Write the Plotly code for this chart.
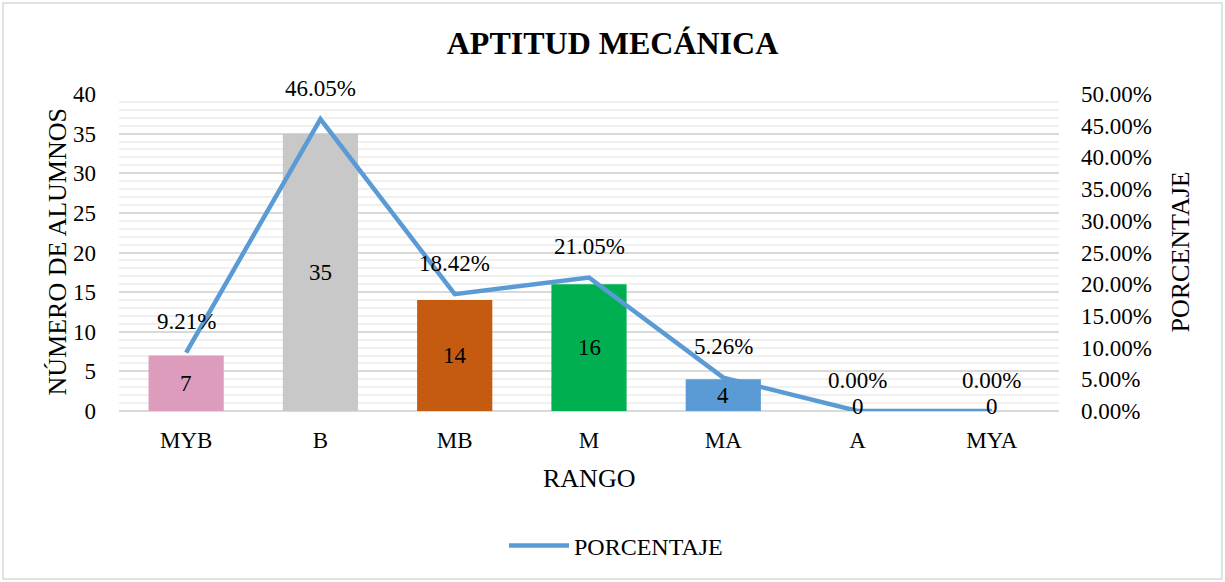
import plotly.graph_objects as go

# data
rangos = ["MYB", "B", "MB", "M", "MA", "A", "MYA"]
alumnos = [7, 35, 14, 16, 4, 0, 0]
porcentaje = [9.21, 46.05, 18.42, 21.05, 5.26, 0.00, 0.00]
bar_colors = ["#de9cbc", "#c8c8c8", "#c55a11", "#00b050", "#5b9bd5", "#5b9bd5", "#5b9bd5"]

FONT = "Liberation Serif"
LINE_COLOR = "#5b9bd5"
TXT = 23      # tick and data labels
AX_TITLE = 26

fig = go.Figure()

fig.add_trace(go.Bar(
    x=rangos, y=alumnos, marker=dict(color=bar_colors, line_width=0),
    width=0.56, showlegend=False, hoverinfo="x+y",
))

fig.add_trace(go.Scatter(
    x=rangos, y=porcentaje, yaxis="y2", mode="lines", name="PORCENTAJE",
    line=dict(color=LINE_COLOR, width=4.5), showlegend=True,
))

annotations = []
# bar value labels, centered in the bar
for cat, val in zip(rangos, alumnos):
    annotations.append(dict(
        x=cat, y=val / 2, xref="x", yref="y", text=str(val), showarrow=False,
        xanchor="center", yanchor="middle",
        font=dict(family=FONT, size=TXT, color="#000000"),
        yshift=5 if val == 0 else 0,
    ))
# percentage labels above the line points
for cat, val in zip(rangos, porcentaje):
    annotations.append(dict(
        x=cat, y=val, xref="x", yref="y2", text=f"{val:.2f}%", showarrow=False,
        xanchor="center", yanchor="middle",
        font=dict(family=FONT, size=TXT, color="#000000"), yshift=31,
    ))

# axis titles
annotations += [
    dict(text="NÚMERO DE ALUMNOS", x=0, y=0.5, xref="paper", yref="paper",
         xanchor="center", yanchor="middle",
         xshift=-62, textangle=-90, showarrow=False,
         font=dict(family=FONT, size=AX_TITLE, color="#000000")),
    dict(text="PORCENTAJE", x=1, y=0.5, xref="paper", yref="paper",
         xanchor="center", yanchor="middle",
         xshift=121, textangle=-90, showarrow=False,
         font=dict(family=FONT, size=AX_TITLE, color="#000000")),
    dict(text="RANGO", x=0.5, y=0, xref="paper", yref="paper",
         xanchor="center", yanchor="middle",
         yshift=-67, showarrow=False,
         font=dict(family=FONT, size=AX_TITLE, color="#000000")),
]

fig.update_layout(
    width=1225, height=582,
    margin=dict(l=119, r=166, t=94, b=171, autoexpand=False),
    paper_bgcolor="white", plot_bgcolor="white",
    font=dict(family=FONT, size=TXT, color="#000000"),
    title=dict(text="<b>APTITUD MECÁNICA</b>", x=0.5, xanchor="center",
               y=1 - 43 / 582, yanchor="middle",
               font=dict(family=FONT, size=32, color="#000000")),
    xaxis=dict(showgrid=False, showline=False, ticks="", zeroline=False, automargin=False,
               tickfont=dict(family=FONT, size=TXT), ticklabelstandoff=13),
    yaxis=dict(range=[0, 40], dtick=5, showgrid=True, gridcolor="#d9d9d9", gridwidth=1.5,
               minor=dict(dtick=1, showgrid=True, gridcolor="#f0f0f0", gridwidth=1.5),
               zeroline=True, zerolinecolor="#d9d9d9", zerolinewidth=2, automargin=False,
               showline=False, ticks="", tickfont=dict(family=FONT, size=TXT),
               ticklabelstandoff=22),
    yaxis2=dict(range=[0, 50], dtick=5, overlaying="y", side="right", automargin=False,
                showgrid=False, zeroline=False, showline=False, ticks="",
                tickformat=".2f", ticksuffix="%", tickfont=dict(family=FONT, size=TXT),
                ticklabelstandoff=21),
    legend=dict(orientation="h", x=(504 - 119) / 940, xanchor="left",
                y=-135 / 317, yanchor="middle",
                font=dict(family=FONT, size=24), itemwidth=60, bgcolor="rgba(0,0,0,0)"),
    annotations=annotations,
    bargap=0.44,
    # outer chart border
    shapes=[dict(
        type="rect", xref="paper", yref="paper",
        x0=-116 / 940, x1=1 + 163 / 940, y0=-168 / 317, y1=1 + 91 / 317,
        line=dict(color="#d9d9d9", width=1.5), fillcolor="rgba(0,0,0,0)", layer="below",
    )],
)

# drop the default page margin so the figure sits at the window's top-left corner
fig.write_html("out.html", config={"displayModeBar": False},
               post_script="document.body.style.margin = '0';")
